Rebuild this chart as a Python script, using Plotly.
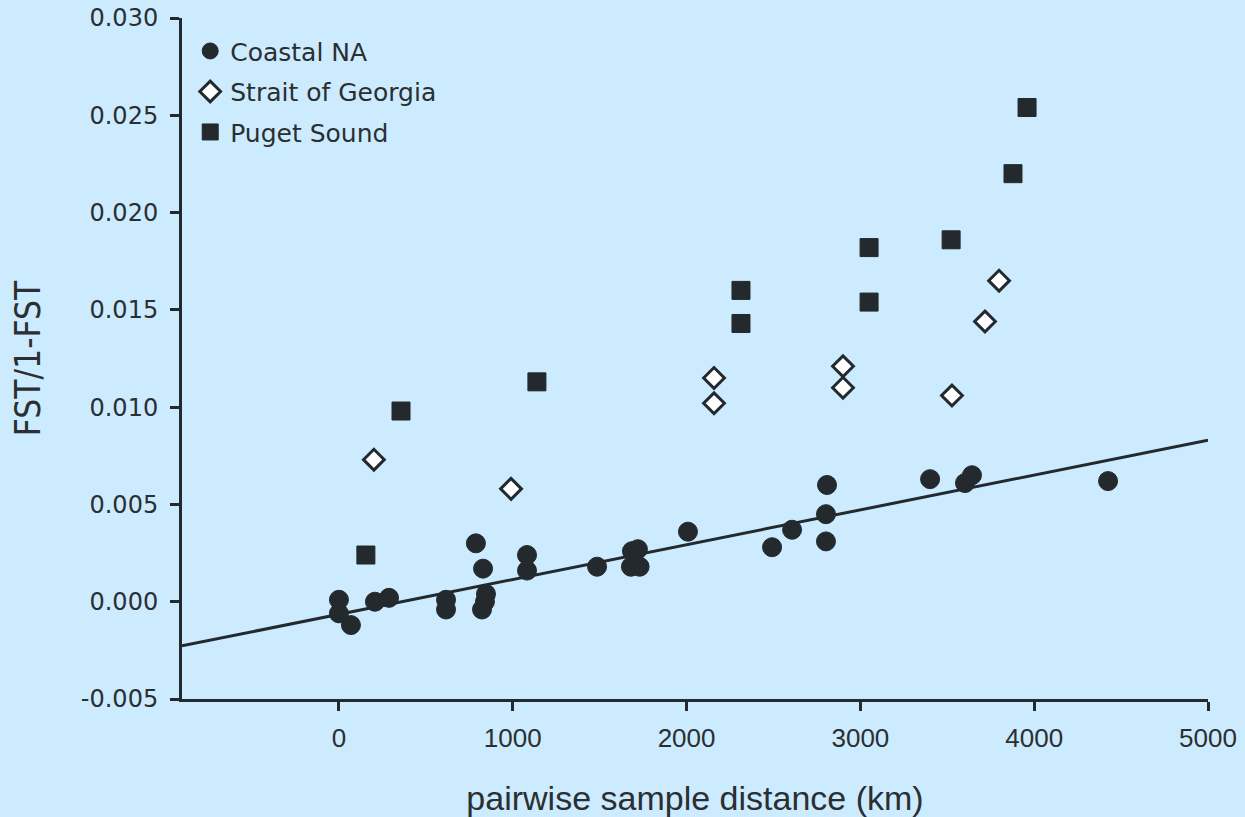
import plotly.graph_objects as go

# ---------------- data ----------------
coastal_x = [0, 0, 69, 207, 288, 616, 616, 788, 829, 846, 840, 823, 1082, 1082,
             1485, 1686, 1720, 1680, 1730, 2008, 2492, 2607, 2808, 2802, 2802,
             3401, 3602, 3642, 4425]
coastal_y = [0.0001, -0.0006, -0.0012, 0.0000, 0.0002, 0.0001, -0.0004, 0.0030,
             0.0017, 0.0004, 0.0000, -0.0004, 0.0024, 0.0016, 0.0018, 0.0026,
             0.0027, 0.0018, 0.0018, 0.0036, 0.0028, 0.0037, 0.0060, 0.0045,
             0.0031, 0.0063, 0.0061, 0.0065, 0.0062]

georgia_x = [201, 990, 2158, 2158, 2900, 2900, 3527, 3717, 3798]
georgia_y = [0.0073, 0.0058, 0.0115, 0.0102, 0.0121, 0.0110, 0.0106, 0.0144, 0.0165]

puget_x = [155, 357, 1139, 2313, 2313, 3050, 3050, 3522, 3878, 3959]
puget_y = [0.0024, 0.0098, 0.0113, 0.0160, 0.0143, 0.0182, 0.0154, 0.0186, 0.0220, 0.0254]

# regression line (intercept, slope per km)
fit_intercept = -0.00065
fit_slope = 1.79e-6

x_range = [-903, 5000]
y_range = [-0.005, 0.030]
x_tick_vals = [0, 1000, 2000, 3000, 4000, 5000]
x_tick_labels = ["0", "1000", "2000", "3000", "4000", "5000"]
y_tick_vals = [-0.005, 0.0, 0.005, 0.010, 0.015, 0.020, 0.025, 0.030]
y_tick_labels = ["-0.005", "0.000", "0.005", "0.010", "0.015", "0.020", "0.025", "0.030"]

# ---------------- styling ----------------
BG = "rgb(204,235,255)"
DARK = "#23292c"
TXT = "#2b2f31"

fig = go.Figure()

line_x = [x_range[0], x_range[1]]
line_y = [fit_intercept + fit_slope * v for v in line_x]
fig.add_trace(go.Scatter(x=line_x, y=line_y, mode="lines",
                         line=dict(color=DARK, width=3), showlegend=False,
                         hoverinfo="skip"))

fig.add_trace(go.Scatter(x=coastal_x, y=coastal_y, mode="markers", name="Coastal NA",
                         legendgroup="a",
                         marker=dict(symbol="circle", size=19, color=DARK,
                                     line=dict(color=DARK, width=1))))
fig.add_trace(go.Scatter(x=georgia_x, y=georgia_y, mode="markers", name="Strait of Georgia",
                         legendgroup="b",
                         marker=dict(symbol="diamond", size=16, color="white",
                                     line=dict(color=DARK, width=3))))
fig.add_trace(go.Scatter(x=puget_x, y=puget_y, mode="markers", name="Puget Sound",
                         legendgroup="c",
                         marker=dict(symbol="square", size=18, color=DARK,
                                     line=dict(color=DARK, width=1))))

fig.update_layout(
    width=1245, height=817,
    margin=dict(l=182, r=37, t=18, b=118),
    paper_bgcolor=BG, plot_bgcolor=BG,
    font=dict(family="Liberation Sans, Arial, sans-serif", color=TXT),
    showlegend=True,
    legend=dict(x=0.008, y=0.985, xanchor="left", yanchor="top",
                bgcolor="rgba(0,0,0,0)", tracegroupgap=5,
                font=dict(family="DejaVu Sans, sans-serif", size=25, color=TXT)),
    xaxis=dict(range=x_range, tickvals=x_tick_vals, ticktext=x_tick_labels,
               automargin=False,
               showgrid=False, zeroline=False, showline=True, linecolor=DARK,
               linewidth=3, ticks="outside", ticklen=9, tickwidth=3, tickcolor=DARK,
               ticklabelstandoff=5,
               tickfont=dict(family="Liberation Sans, Arial, sans-serif", size=26, color=TXT),
               title=dict(text="pairwise sample distance (km)", standoff=35,
                          font=dict(family="Liberation Sans, Arial, sans-serif", size=34, color=TXT))),
    yaxis=dict(range=y_range, tickvals=y_tick_vals, ticktext=y_tick_labels,
               automargin=False,
               showgrid=False, zeroline=False, showline=True, linecolor=DARK,
               linewidth=3, ticks="outside", ticklen=9, tickwidth=3, tickcolor=DARK,
               ticklabelstandoff=7,
               tickfont=dict(family="DejaVu Sans, sans-serif", size=24, color=TXT),
               title=dict(text="FST/1-FST", standoff=30,
                          font=dict(family="Liberation Sans Narrow, DejaVu Sans Condensed, Liberation Sans, sans-serif",
                                    size=35, color=TXT))),
)

fig.write_html(
    "out.html",
    config={"displayModeBar": False},
    post_script="document.body.style.margin='0';document.body.style.background='rgb(204,235,255)';document.body.style.overflow='hidden';",
)
